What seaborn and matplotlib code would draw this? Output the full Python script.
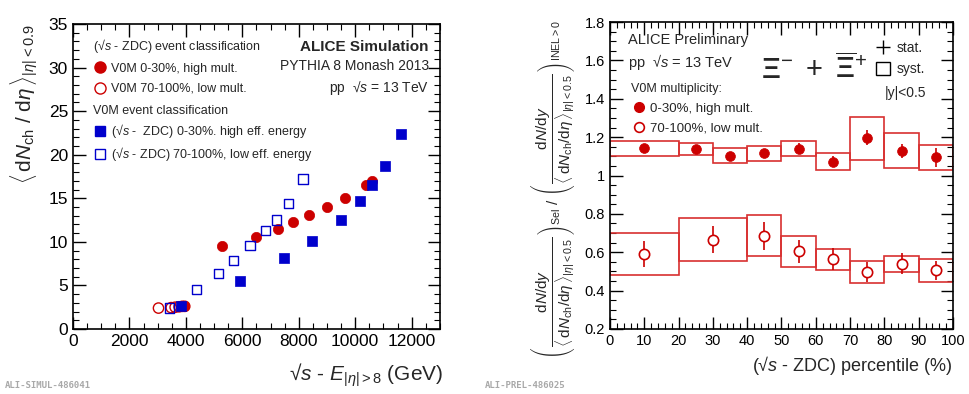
import matplotlib
matplotlib.use('Agg')
import matplotlib.pyplot as plt
from matplotlib.lines import Line2D
from matplotlib.patches import Patch
from matplotlib.ticker import MultipleLocator
import seaborn as sns

# --- left panel: <dNch/deta> vs sqrt(s) - E(|eta|>8) ---
zdc_hm_x = [3850, 3950, 5270, 6480, 7250, 7800, 8350, 9000, 9640, 10390, 10580]
zdc_hm_y = [2.6, 2.6, 9.5, 10.6, 11.5, 12.3, 13.1, 14.0, 15.0, 16.5, 17.0]
zdc_lm_x = [3030, 3480, 3620, 3760, 3870, 3960]
zdc_lm_y = [2.4, 2.45, 2.5, 2.55, 2.6, 2.6]
v0m_he_x = [3830, 5900, 7460, 8470, 9480, 10160, 10600, 11070, 11620]
v0m_he_y = [2.65, 5.55, 8.1, 10.1, 12.5, 14.7, 16.5, 18.65, 22.4]
v0m_le_x = [3420, 4380, 5150, 5680, 6270, 6810, 7200, 7630, 8150]
v0m_le_y = [2.4, 4.5, 6.4, 7.85, 9.6, 11.3, 12.5, 14.4, 17.2]

# --- right panel: Xi double ratio vs ZDC percentile ---
hm_lo = [0, 20, 30, 40, 50, 60, 70, 80, 90]
hm_hi = [20, 30, 40, 50, 60, 70, 80, 90, 100]
hm_x = [10, 25, 35, 45, 55, 65, 75, 85, 95]
hm_val = [1.142, 1.138, 1.102, 1.116, 1.140, 1.072, 1.197, 1.129, 1.095]
hm_stat = [0.015, 0.018, 0.018, 0.022, 0.03, 0.029, 0.038, 0.037, 0.048]
hm_sys_bot = [1.103, 1.107, 1.064, 1.076, 1.102, 1.027, 1.081, 1.041, 1.027]
hm_sys_top = [1.181, 1.171, 1.142, 1.155, 1.180, 1.119, 1.306, 1.223, 1.160]

lm_lo = [0, 20, 40, 50, 60, 70, 80, 90]
lm_hi = [20, 40, 50, 60, 70, 80, 90, 100]
lm_x = [10, 30, 45, 55, 65, 75, 85, 95]
lm_val = [0.592, 0.665, 0.685, 0.604, 0.564, 0.498, 0.541, 0.505]
lm_stat = [0.069, 0.071, 0.072, 0.06, 0.056, 0.052, 0.054, 0.05]
lm_sys_bot = [0.481, 0.554, 0.581, 0.524, 0.509, 0.439, 0.498, 0.445]
lm_sys_top = [0.703, 0.778, 0.793, 0.684, 0.619, 0.557, 0.583, 0.564]

RED = '#cc0000'
BLUE = '#0000cc'

sns.set_theme(style='ticks')
plt.rcParams['font.family'] = ['Liberation Sans', 'DejaVu Sans']
plt.rcParams['mathtext.fontset'] = 'custom'
plt.rcParams['mathtext.rm'] = 'Liberation Sans'
plt.rcParams['mathtext.it'] = 'Liberation Sans:italic'
plt.rcParams['mathtext.bf'] = 'Liberation Sans:bold'
plt.rcParams['axes.edgecolor'] = 'black'
plt.rcParams['xtick.color'] = 'black'
plt.rcParams['ytick.color'] = 'black'


def root_style(ax, xmaj, xmin, ymaj, ymin, labelsize):
    ax.xaxis.set_major_locator(MultipleLocator(xmaj))
    ax.xaxis.set_minor_locator(MultipleLocator(xmin))
    ax.yaxis.set_major_locator(MultipleLocator(ymaj))
    ax.yaxis.set_minor_locator(MultipleLocator(ymin))
    ax.tick_params(which='both', direction='in', top=True, right=True,
                   labelsize=labelsize)
    ax.tick_params(which='major', length=9, width=1)
    ax.tick_params(which='minor', length=4.5, width=0.8)
    for s in ax.spines.values():
        s.set_linewidth(1.2)
        s.set_color('black')


fig = plt.figure(figsize=(9.69, 3.94), dpi=100)
ax1 = fig.add_axes([0.0753, 0.165, 0.3787, 0.774])
ax2 = fig.add_axes([0.6295, 0.165, 0.354, 0.779])

# ---------------- left panel ----------------
sns.scatterplot(x=zdc_lm_x, y=zdc_lm_y, ax=ax1, marker='o', s=55,
                facecolors='none', edgecolor=RED, linewidth=1.0)
sns.scatterplot(x=zdc_hm_x, y=zdc_hm_y, ax=ax1, marker='o', s=55,
                color=RED, edgecolor=RED, linewidth=0.5)
sns.scatterplot(x=v0m_le_x, y=v0m_le_y, ax=ax1, marker='s', s=45,
                facecolors='none', edgecolor=BLUE, linewidth=1.0)
sns.scatterplot(x=v0m_he_x, y=v0m_he_y, ax=ax1, marker='s', s=45,
                color=BLUE, edgecolor=BLUE, linewidth=0.5)

ax1.set_xlim(0, 13000)
ax1.set_ylim(0, 35)
root_style(ax1, 2000, 500, 5, 1, 12.5)
ax1.set_xlabel(r'√$s$ - $E_{|\eta|>8}$ (GeV)', fontsize=15, loc='right')
ax1.xaxis.set_label_coords(1.01, -0.105)
ax1.set_ylabel(r'$\langle\,\mathrm{d}N_{\mathrm{ch}}\ /\ \mathrm{d}\eta\,\rangle_{|\eta|<0.9}$',
               fontsize=15, loc='top')
ax1.yaxis.set_label_coords(-0.09, 1.0)

h_hm = Line2D([], [], ls='none', marker='o', ms=8, color=RED)
h_lm = Line2D([], [], ls='none', marker='o', ms=8, mfc='none', mec=RED)
h_he = Line2D([], [], ls='none', marker='s', ms=7, color=BLUE)
h_le = Line2D([], [], ls='none', marker='s', ms=7, mfc='none', mec=BLUE)
leg1 = ax1.legend([h_hm, h_lm], ['V0M 0-30%, high mult.', 'V0M 70-100%, low mult.'],
                  title='(√$s$ - ZDC) event classification', title_fontsize=9,
                  fontsize=9, loc='upper left', bbox_to_anchor=(0.04, 0.975),
                  frameon=False, alignment='left', handletextpad=0.3,
                  labelspacing=0.65, borderaxespad=0, handlelength=1.2)
ax1.add_artist(leg1)
ax1.legend([h_he, h_le], ['(√$s$ -  ZDC) 0-30%. high eff. energy',
                          '(√$s$ - ZDC) 70-100%, low eff. energy'],
           title='V0M event classification', title_fontsize=9,
           fontsize=9, loc='upper left', bbox_to_anchor=(0.04, 0.75),
           frameon=False, alignment='left', handletextpad=0.3,
           labelspacing=0.4, borderaxespad=0, handlelength=1.2)

ax1.text(0.970, 0.925, 'ALICE Simulation', transform=ax1.transAxes,
         ha='right', va='center', fontsize=11, weight='bold')
ax1.text(0.970, 0.862, 'PYTHIA 8 Monash 2013', transform=ax1.transAxes,
         ha='right', va='center', fontsize=10)
ax1.text(0.970, 0.790, 'pp  √$s$ = 13 TeV', transform=ax1.transAxes,
         ha='right', va='center', fontsize=10)

# ---------------- right panel ----------------
box_kw = dict(fill=False, edgecolor='#d83030', linewidth=1.2, align='edge')
ax2.bar(hm_lo, [t - b for t, b in zip(hm_sys_top, hm_sys_bot)],
        width=[h - l for h, l in zip(hm_hi, hm_lo)], bottom=hm_sys_bot, **box_kw)
ax2.bar(lm_lo, [t - b for t, b in zip(lm_sys_top, lm_sys_bot)],
        width=[h - l for h, l in zip(lm_hi, lm_lo)], bottom=lm_sys_bot, **box_kw)
ax2.errorbar(hm_x, hm_val, yerr=hm_stat, fmt='none', ecolor=RED, elinewidth=1.2)
ax2.errorbar(lm_x, lm_val, yerr=lm_stat, fmt='none', ecolor=RED, elinewidth=1.2)
sns.scatterplot(x=hm_x, y=hm_val, ax=ax2, marker='o', s=50, color=RED,
                edgecolor=RED, linewidth=0.5, zorder=5)
sns.scatterplot(x=lm_x, y=lm_val, ax=ax2, marker='o', s=55, facecolor='white',
                edgecolor=RED, linewidth=1.2, zorder=5)

ax2.set_xlim(0, 100)
ax2.set_ylim(0.2, 1.8)
root_style(ax2, 10, 2, 0.2, 0.05, 10.5)
ax2.set_yticks([0.2, 0.4, 0.6, 0.8, 1.0, 1.2, 1.4, 1.6, 1.8],
               ['0.2', '0.4', '0.6', '0.8', '1', '1.2', '1.4', '1.6', '1.8'])
ax2.set_xlabel('(√$s$ - ZDC) percentile (%)', fontsize=13, loc='right')
ax2.xaxis.set_label_coords(1.0, -0.08)
frac = r'\dfrac{\mathrm{d}N/\mathrm{d}y}{\langle\,\mathrm{d}N_{\mathrm{ch}}/\mathrm{d}\eta\,\rangle_{|\eta|<0.5}}'
ax2.set_ylabel(r'$\left(\,' + frac + r'\,\right)_{\mathrm{Sel}}\ /\ \left(\,' + frac +
               r'\,\right)_{\mathrm{INEL}>0}$', fontsize=11)
ax2.yaxis.set_label_coords(-0.095, 0.455)

ax2.text(0.052, 0.94, 'ALICE Preliminary', transform=ax2.transAxes,
         ha='left', va='center', fontsize=10.5)
ax2.text(0.052, 0.87, 'pp  √$s$ = 13 TeV', transform=ax2.transAxes,
         ha='left', va='center', fontsize=10.5)
ax2.text(0.595, 0.845, r'$\boldsymbol{\Xi}^{-}\ +\ \overline{\boldsymbol{\Xi}}^{+}$',
         transform=ax2.transAxes, ha='center', va='center', fontsize=21)
ax2.text(0.80, 0.769, '|y|<0.5', transform=ax2.transAxes,
         ha='left', va='center', fontsize=10)

h2_hm = Line2D([], [], ls='none', marker='o', ms=7, color=RED)
h2_lm = Line2D([], [], ls='none', marker='o', ms=7, mfc='none', mec=RED, mew=1.2)
leg2 = ax2.legend([h2_hm, h2_lm], ['0-30%, high mult.', '70-100%, low mult.'],
                  title='V0M multiplicity:', title_fontsize=9, fontsize=9.5,
                  loc='upper left', bbox_to_anchor=(0.045, 0.82),
                  frameon=False, alignment='left', handletextpad=0.3,
                  labelspacing=0.6, borderaxespad=0, handlelength=1.2)
ax2.add_artist(leg2)
h_stat = Line2D([], [], ls='none', marker='+', ms=10, mew=1.0, color='black')
h_syst = Patch(facecolor='none', edgecolor='black', linewidth=1.0)
ax2.legend([h_stat, h_syst], ['stat.', 'syst.'], fontsize=10,
           loc='upper left', bbox_to_anchor=(0.76, 0.955), frameon=False,
           handletextpad=0.5, labelspacing=0.5, borderaxespad=0,
           handlelength=1.0, handleheight=1.0)

fig.text(0.005, 0.022, 'ALI-SIMUL-486041', family='DejaVu Sans Mono',
         color='#a8a8a8', fontsize=6.5, weight='bold', va='center')
fig.text(0.5, 0.022, 'ALI-PREL-486025', family='DejaVu Sans Mono',
         color='#a8a8a8', fontsize=6.5, weight='bold', va='center')

fig.savefig('out.png', dpi=100)
